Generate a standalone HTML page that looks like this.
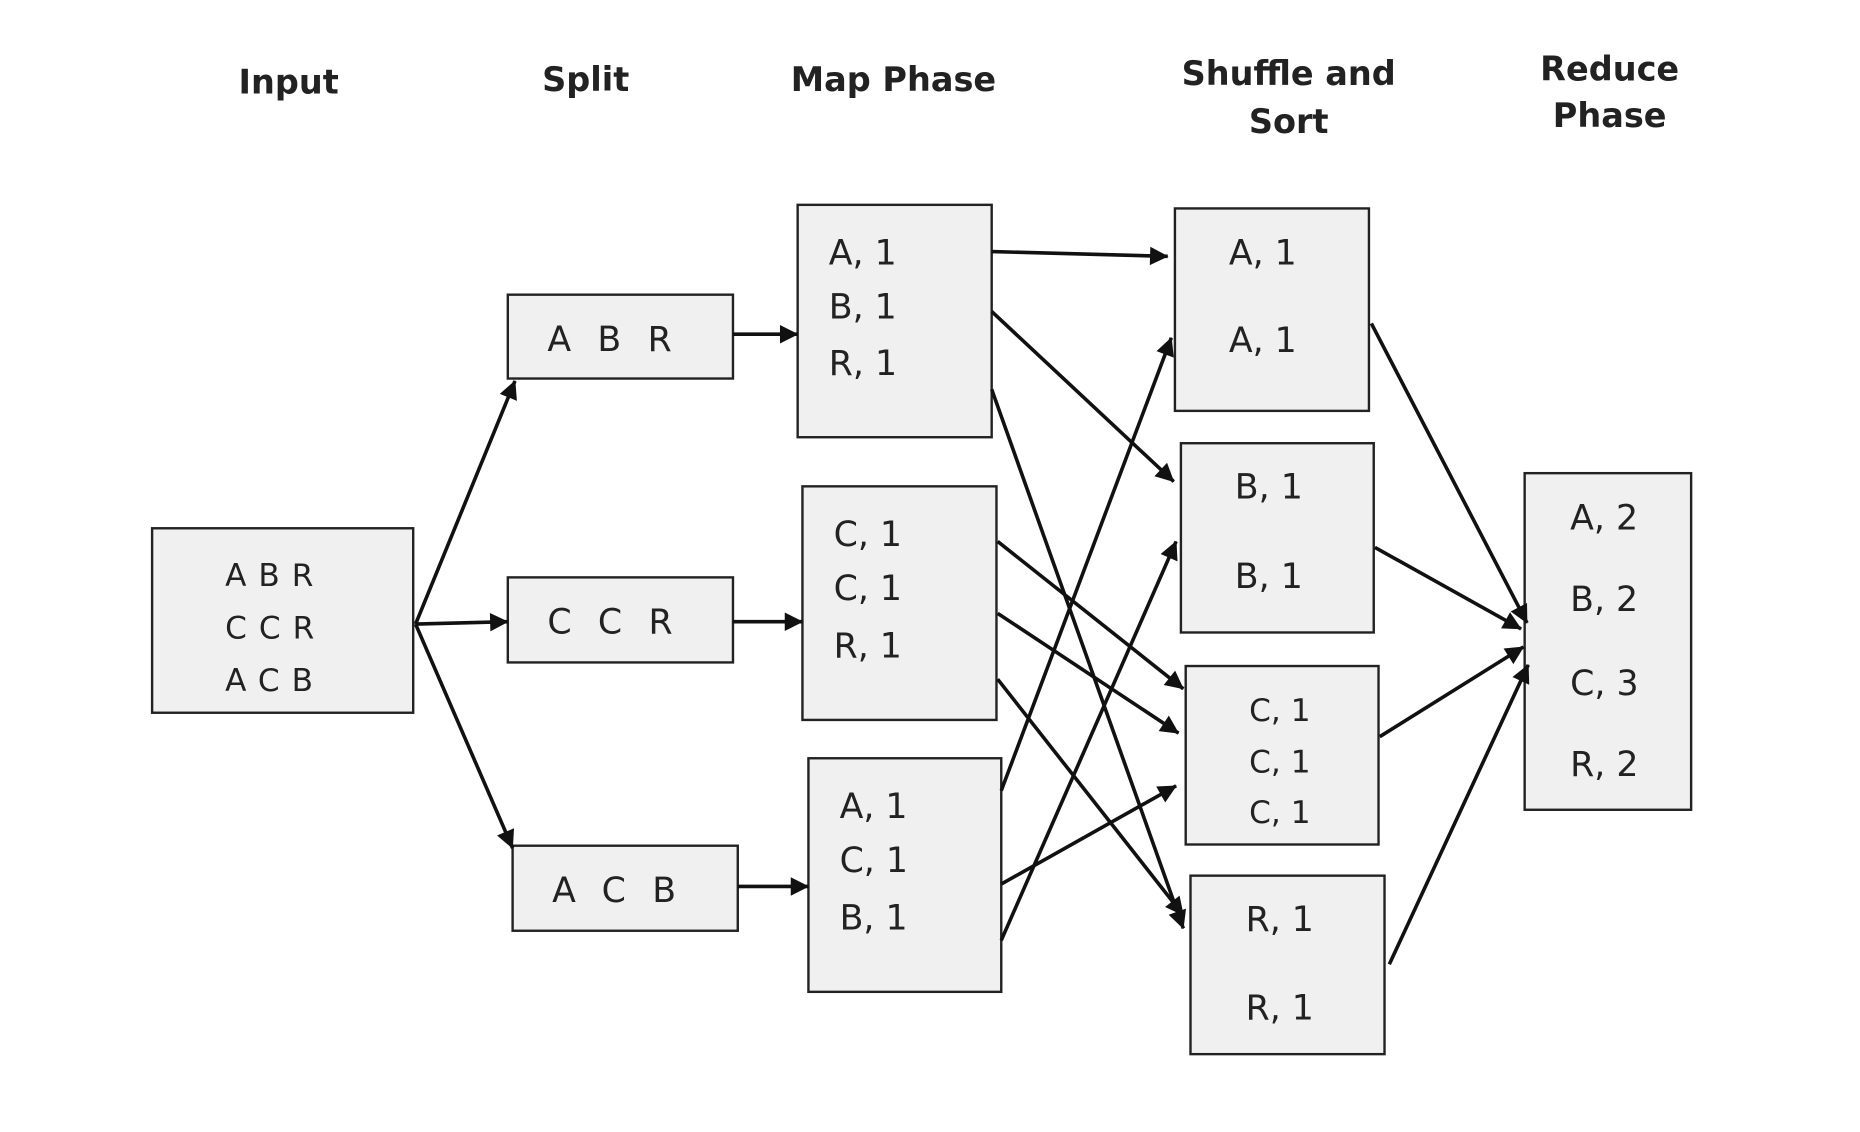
<!DOCTYPE html>
<html><head><meta charset="utf-8"><style>
html,body{margin:0;padding:0;background:#fff;}
svg{display:block}
.h{font-family:"DejaVu Sans",sans-serif;font-weight:bold;font-size:28px;fill:#222;text-anchor:middle}
.t{font-family:"DejaVu Sans",sans-serif;font-size:29px;fill:#222}
.s{font-family:"DejaVu Sans",sans-serif;font-size:26px;fill:#222}
rect{fill:#f0f0f0;stroke:#222;stroke-width:2}
line{stroke:#111;stroke-width:3;marker-end:url(#a)}
</style></head><body>
<svg width="1860" height="1132" viewBox="0 0 1553 945" preserveAspectRatio="none">
<defs><marker id="a" viewBox="0 0 10 10" refX="9" refY="5" markerWidth="7" markerHeight="7" markerUnits="userSpaceOnUse" orient="auto" style="overflow:visible"><path d="M0,0 L10,5 L0,10 z" fill="#111" transform="scale(2.2) translate(-5.5,-2.7)"/></marker></defs>
<text class="h" x="241" y="78">Input</text>
<text class="h" x="489" y="76">Split</text>
<text class="h" x="746" y="76">Map Phase</text>
<text class="h" x="1076" y="71">Shuffle and</text>
<text class="h" x="1076" y="111">Sort</text>
<text class="h" x="1344" y="67">Reduce</text>
<text class="h" x="1344" y="106">Phase</text>

<rect x="127" y="441" width="218" height="154"/>
<text class="s" x="188" y="489" letter-spacing="10">ABR</text>
<text class="s" x="188" y="533" letter-spacing="10">CCR</text>
<text class="s" x="188" y="577" letter-spacing="10">ACB</text>

<rect x="424" y="246" width="188" height="70"/>
<text class="t" x="457" y="293" letter-spacing="22">ABR</text>
<rect x="424" y="482" width="188" height="71"/>
<text class="t" x="457" y="529" letter-spacing="22">CCR</text>
<rect x="428" y="706" width="188" height="71"/>
<text class="t" x="461" y="753" letter-spacing="22">ACB</text>

<rect x="666" y="171" width="162" height="194"/>
<text class="t" x="692" y="221">A, 1</text><text class="t" x="692" y="266">B, 1</text><text class="t" x="692" y="313">R, 1</text>
<rect x="670" y="406" width="162" height="195"/>
<text class="t" x="696" y="456">C, 1</text><text class="t" x="696" y="501">C, 1</text><text class="t" x="696" y="549">R, 1</text>
<rect x="675" y="633" width="161" height="195"/>
<text class="t" x="701" y="683">A, 1</text><text class="t" x="701" y="728">C, 1</text><text class="t" x="701" y="776">B, 1</text>

<rect x="981" y="174" width="162" height="169"/>
<text class="t" x="1026" y="221">A, 1</text><text class="t" x="1026" y="294">A, 1</text>
<rect x="986" y="370" width="161" height="158"/>
<text class="t" x="1031" y="416">B, 1</text><text class="t" x="1031" y="491">B, 1</text>
<rect x="990" y="556" width="161" height="149"/>
<text class="s" x="1043" y="602">C, 1</text><text class="s" x="1043" y="645">C, 1</text><text class="s" x="1043" y="687">C, 1</text>
<rect x="994" y="731" width="162" height="149"/>
<text class="t" x="1040" y="777">R, 1</text><text class="t" x="1040" y="851">R, 1</text>

<rect x="1273" y="395" width="139" height="281"/>
<text class="t" x="1311" y="442">A, 2</text><text class="t" x="1311" y="510">B, 2</text><text class="t" x="1311" y="580">C, 3</text><text class="t" x="1311" y="648">R, 2</text>

<line x1="347" y1="521" x2="430" y2="318"/>
<line x1="347" y1="521" x2="424" y2="519"/>
<line x1="347" y1="521" x2="428" y2="708"/>
<line x1="612" y1="279" x2="666" y2="279"/>
<line x1="612" y1="519" x2="670" y2="519"/>
<line x1="616" y1="740" x2="675" y2="740"/>
<line x1="828" y1="210" x2="975" y2="214"/>
<line x1="828" y1="260" x2="980" y2="402"/>
<line x1="828" y1="325" x2="988" y2="775"/>
<line x1="833" y1="452" x2="988" y2="575"/>
<line x1="833" y1="512" x2="984" y2="612"/>
<line x1="833" y1="567" x2="988" y2="764"/>
<line x1="836" y1="660" x2="978" y2="282"/>
<line x1="836" y1="738" x2="982" y2="656"/>
<line x1="836" y1="785" x2="982" y2="452"/>
<line x1="1145" y1="270" x2="1275" y2="520"/>
<line x1="1148" y1="457" x2="1270" y2="525"/>
<line x1="1152" y1="615" x2="1272" y2="540"/>
<line x1="1160" y1="805" x2="1276" y2="555"/>
</svg>
</body></html>
